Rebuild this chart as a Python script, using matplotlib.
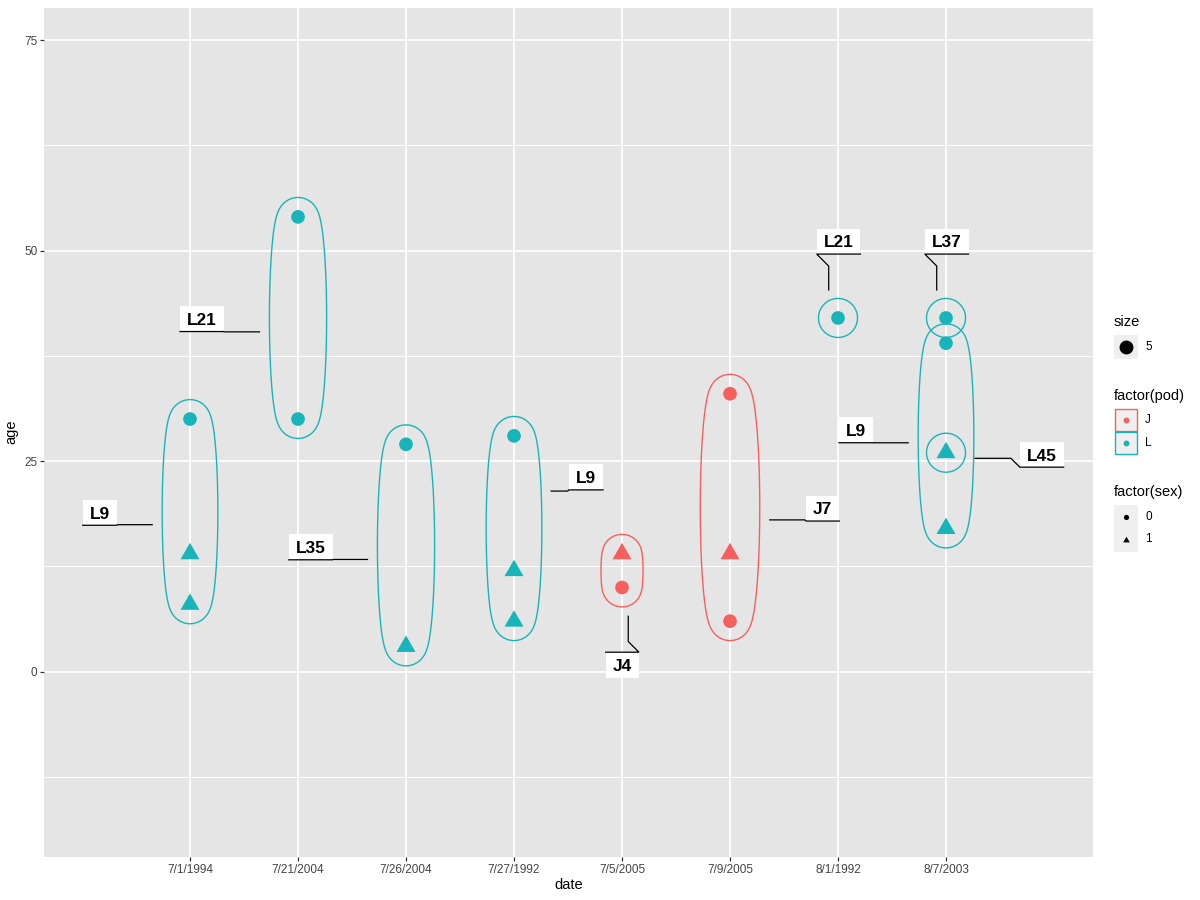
import numpy as np
import matplotlib
matplotlib.use("Agg")
import matplotlib.pyplot as plt
from matplotlib.patches import Polygon, Rectangle

plt.rcParams['font.family'] = ['Liberation Sans', 'DejaVu Sans']

# ---- data ----
dates = ['7/1/1994', '7/21/2004', '7/26/2004', '7/27/1992',
         '7/5/2005', '7/9/2005', '8/1/1992', '8/7/2003']

obs_date = ['7/1/1994', '7/1/1994', '7/1/1994',
            '7/21/2004', '7/21/2004',
            '7/26/2004', '7/26/2004',
            '7/27/1992', '7/27/1992', '7/27/1992',
            '7/5/2005', '7/5/2005',
            '7/9/2005', '7/9/2005', '7/9/2005',
            '8/1/1992',
            '8/7/2003', '8/7/2003', '8/7/2003', '8/7/2003']
obs_age = [30, 14, 8, 54, 30, 27, 3, 28, 12, 6, 14, 10, 33, 14, 6, 42, 42, 39, 26, 17]
obs_sex = [0, 1, 1, 0, 0, 0, 1, 0, 1, 1, 1, 0, 0, 1, 0, 0, 0, 0, 1, 1]
obs_pod = ['L', 'L', 'L', 'L', 'L', 'L', 'L', 'L', 'L', 'L',
           'J', 'J', 'J', 'J', 'J', 'L', 'L', 'L', 'L', 'L']
obs_id = ['L9', 'L9', 'L9', 'L21', 'L21', 'L35', 'L35', 'L9', 'L9', 'L9',
          'J4', 'J4', 'J7', 'J7', 'J7', 'L21', 'L37', 'L9', 'L45', 'L9']

pod_colors = {'J': '#F5605E', 'L': '#17B5B9'}

# label placement (x in category units, y in age units) and the box corner the connector reaches
label_place = {
    ('L9', '7/1/1994'): (0.164, 18.9, 'br'),
    ('L21', '7/21/2004'): (1.110, 41.9, 'br'),
    ('L35', '7/26/2004'): (2.118, 14.8, 'br'),
    ('L9', '7/27/1992'): (4.666, 23.1, 'bl'),
    ('J4', '7/5/2005'): (5.003, 0.8, 'tr'),
    ('J7', '7/9/2005'): (6.858, 19.4, 'bl'),
    ('L21', '8/1/1992'): (7.005, 51.1, 'bl'),
    ('L37', '8/7/2003'): (8.006, 51.1, 'bl'),
    ('L9', '8/7/2003'): (7.167, 28.7, 'br'),
    ('L45', '8/7/2003'): (8.886, 25.8, 'bl'),
}

fig = plt.figure(figsize=(12, 9), dpi=100)
ax = fig.add_axes([44 / 1200, 43 / 900, 1049 / 1200, 849 / 900])
ax.set_facecolor('#E5E5E5')
ax.set_xlim(-0.352, 9.361)
ax.set_ylim(-22.0, 78.8)
for s in ax.spines.values():
    s.set_visible(False)

xpos = np.arange(1, len(dates) + 1)
ax.set_xticks(xpos)
ax.set_xticklabels(dates)
ax.set_yticks([0, 25, 50, 75])
ax.set_yticks([-12.5, 12.5, 37.5, 62.5], minor=True)
ax.grid(which='major', color='white', lw=1.3)
ax.grid(which='minor', axis='y', color='white', lw=0.65)
ax.set_axisbelow(True)
ax.tick_params(which='major', length=2.6, width=0.9, color='#333333',
               labelsize=8.45, labelcolor='#444444', pad=2.1)
ax.tick_params(which='minor', length=0)

fig.text(568.5 / 1200, 1 - 885 / 900, 'date', ha='center', va='center', fontsize=10.56)
fig.text(11 / 1200, 1 - 431.5 / 900, 'age', ha='center', va='center', fontsize=10.56, rotation=90)

xi = np.array([dates.index(d) + 1 for d in obs_date])
age = np.array(obs_age, dtype=float)
sex = np.array(obs_sex)
pod = np.array(obs_pod)

# points
for sx, mk, sz in [(0, 'o', 97), (1, (3, 0, 0), 250)]:
    m = sex == sx
    ax.scatter(xi[m], age[m], c=[pod_colors[p] for p in pod[m]], marker=mk, s=sz,
               linewidths=0, zorder=3)

tD = ax.transData
tInv = tD.inverted()

# ellipses (enclosing ellipse offset outward, in pixel space)
R = 19.5
t = np.linspace(0, 2 * np.pi, 300)
outlines = {}
groups = []
for gid, d in zip(obs_id, obs_date):
    if (gid, d) not in groups:
        groups.append((gid, d))

for gid, d in groups:
    m = np.array([(a == gid and b == d) for a, b in zip(obs_id, obs_date)])
    px = tD.transform(np.column_stack([xi[m], age[m]]))
    cx = px[:, 0].mean()
    y0, y1 = px[:, 1].min(), px[:, 1].max()
    a = (y1 - y0) / 2
    b = 0.045 * (y1 - y0)
    cy = (y0 + y1) / 2
    if a < 1e-6:
        nx, ny = np.cos(t), np.sin(t)
    else:
        nx, ny = a * np.cos(t), b * np.sin(t)
        nn = np.hypot(nx, ny)
        nx, ny = nx / nn, ny / nn
    ox = cx + b * np.cos(t) + R * nx
    oy = cy + a * np.sin(t) + R * ny
    outl = np.column_stack([ox, oy])
    outlines[(gid, d)] = outl
    col = pod_colors[pod[m][0]]
    ax.add_patch(Polygon(tInv.transform(outl), closed=True, fill=False,
                         edgecolor=col, lw=1.0, zorder=2))

# labels with elbow connectors
renderer = fig.canvas.get_renderer()
fs = 12.4
pad_x = 7.0
box_h = 25.5
cap = 0.716 * fs * 100 / 72
gap = 10.0
for key, (lx, ly, corner) in label_place.items():
    gid = key[0]
    c = tD.transform((lx, ly))
    txt = ax.text(0, 0, gid, fontsize=fs, fontweight='bold')
    w = txt.get_window_extent(renderer).width + 2 * pad_x
    txt.remove()
    x0, x1 = c[0] - w / 2, c[0] + w / 2
    yb, yt = c[1] - box_h / 2, c[1] + box_h / 2
    ax.add_patch(Rectangle(tInv.transform((x0, yb)),
                           (tInv.transform((x1, yb)) - tInv.transform((x0, yb)))[0],
                           (tInv.transform((x0, yt)) - tInv.transform((x0, yb)))[1],
                           facecolor='white', edgecolor='none', zorder=4, clip_on=False))
    ax.text(*tInv.transform((c[0], c[1] - cap / 2)), gid, fontsize=fs, fontweight='bold',
            ha='center', va='baseline', zorder=5)
    ey = yb if corner[0] == 'b' else yt
    if corner[1] == 'r':
        E, F = np.array([x1, ey]), np.array([x0, ey])
    else:
        E, F = np.array([x0, ey]), np.array([x1, ey])
    outl = outlines[key]
    dist = np.hypot(outl[:, 0] - E[0], outl[:, 1] - E[1])
    P = outl[np.argmin(dist)]
    u = (E - P) / np.hypot(*(E - P))
    S = P + gap * u
    dx, dy = E - S
    if abs(dx) >= abs(dy):
        M = np.array([E[0] - np.sign(dx) * abs(dy), S[1]])
    else:
        M = np.array([S[0], E[1] - np.sign(dy) * abs(dx)])
    path = tInv.transform(np.array([S, M, E, F]))
    ax.plot(path[:, 0], path[:, 1], color='black', lw=0.9, zorder=5, clip_on=False,
            solid_joinstyle='miter')

# legend (drawn in pixel coordinates)
lax = fig.add_axes([0, 0, 1, 1])
lax.set_xlim(0, 1200)
lax.set_ylim(900, 0)
lax.axis('off')
key_fill = '#EFEFEF'
lfs_t = 10.56
lfs_l = 8.45

lax.text(1114, 322, 'size', fontsize=lfs_t, va='center', ha='left')
lax.add_patch(Rectangle((1114, 335), 23.5, 23.5, facecolor=key_fill, edgecolor='none'))
lax.scatter([1125.8], [346.8], s=100, color='black', linewidths=0)
lax.text(1145, 347, '5', fontsize=lfs_l, va='center', ha='left')

lax.text(1114, 395.7, 'factor(pod)', fontsize=lfs_t, va='center', ha='left')
pods = ['J', 'L']
for i, p in enumerate(pods):
    y0 = 409 + i * 23.3
    lax.add_patch(Rectangle((1114.5, y0), 22.5, 21.5, facecolor=key_fill,
                            edgecolor=pod_colors[p], lw=1.0))
    lax.scatter([1125.8], [y0 + 10.7], s=18, color=pod_colors[p], linewidths=0)
    lax.text(1145, y0 + 10.7, p, fontsize=lfs_l, va='center', ha='left')

lax.text(1114, 491.7, 'factor(sex)', fontsize=lfs_t, va='center', ha='left')
lax.add_patch(Rectangle((1114, 505), 23.5, 46.7, facecolor=key_fill, edgecolor='none'))
lax.scatter([1125.8], [516.7], s=14, color='black', linewidths=0, marker='o')
lax.scatter([1125.8], [539.5], s=30, color='black', linewidths=0, marker=(3, 0, 0))
lax.text(1145, 516.7, '0', fontsize=lfs_l, va='center', ha='left')
lax.text(1145, 539.5, '1', fontsize=lfs_l, va='center', ha='left')

fig.savefig('out.png', dpi=100)
